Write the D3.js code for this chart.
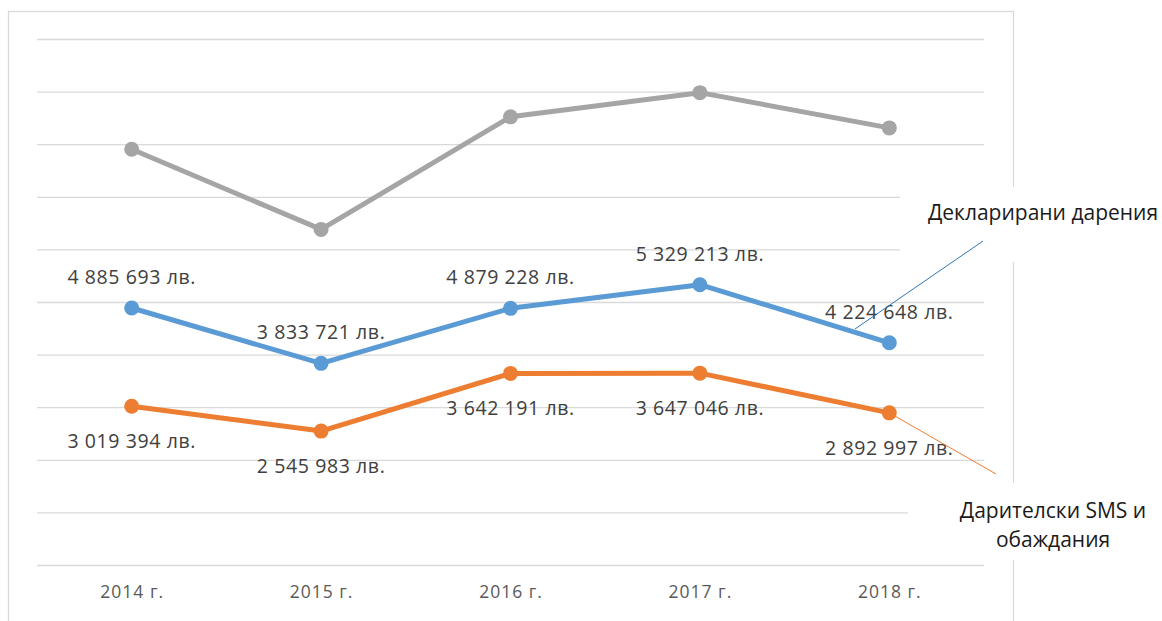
<!DOCTYPE html>
<html>
<head>
<meta charset="utf-8">
<script src="https://cdn.jsdelivr.net/npm/d3@7"></script>
<style>
  body { margin: 0; background: #fff; }
  svg text { font-family: "Open Sans", sans-serif; }
</style>
</head>
<body>
<div id="chart"></div>
<script>
// data
var years = ["2014 г.", "2015 г.", "2016 г.", "2017 г.", "2018 г."];
var declared = [4885693, 3833721, 4879228, 5329213, 4224648];   // Декларирани дарения
var sms = [3019394, 2545983, 3642191, 3647046, 2892997];        // Дарителски SMS и обаждания
var total = [7905000, 6380000, 8520000, 8980000, 8310000];      // grey series, no labels
var yMax = 10000000;

var svgWidth = 1162;
var svgHeight = 621;

var margin = { top: 39, right: 178, bottom: 56, left: 37 };
var width = svgWidth - margin.left - margin.right;
var height = svgHeight - margin.top - margin.bottom;

var svg = d3.select("#chart")
  .append("svg")
  .attr("width", svgWidth)
  .attr("height", svgHeight);

svg.append("rect")
  .attr("width", svgWidth)
  .attr("height", svgHeight)
  .attr("fill", "#fff");

// chart area border
svg.append("rect")
  .attr("x", 8.5)
  .attr("y", 11.5)
  .attr("width", 1005)
  .attr("height", 640)
  .attr("fill", "#fff")
  .attr("stroke", "#d9d9d9")
  .attr("stroke-width", 1.3);

var chartGroup = svg.append("g")
  .attr("transform", `translate(${margin.left}, ${margin.top})`);

// scales
var xScale = d3.scalePoint()
  .domain(years)
  .range([0, width])
  .padding(0.5);

var yScale = d3.scaleLinear()
  .domain([0, yMax])
  .range([height, 0]);

// gridlines
chartGroup.append("g")
  .attr("class", "grid")
  .call(d3.axisLeft(yScale).ticks(10).tickSize(-width).tickFormat(""))
  .call(g => g.select(".domain").remove())
  .call(g => g.selectAll("line").attr("stroke", "#d9d9d9").attr("stroke-width", 1.3));

// x axis
chartGroup.append("g")
  .attr("transform", `translate(0, ${height})`)
  .call(d3.axisBottom(xScale).tickSize(0).tickPadding(21))
  .call(g => g.select(".domain").remove())
  .call(g => g.selectAll("text")
    .attr("fill", "#595959")
    .style("font-size", "17.5px")
    .style("letter-spacing", "1px"));

var line = d3.line()
  .x((d, i) => xScale(years[i]))
  .y(d => yScale(d));

var series = [
  { values: total, color: "#a5a5a5" },
  { values: declared, color: "#5b9bd5" },
  { values: sms, color: "#ed7d31" }
];

series.forEach(function (s) {
  chartGroup.append("path")
    .datum(s.values)
    .attr("fill", "none")
    .attr("stroke", s.color)
    .attr("stroke-width", 5)
    .attr("stroke-linejoin", "round")
    .attr("d", line);

  chartGroup.selectAll(null)
    .data(s.values)
    .enter()
    .append("circle")
    .attr("cx", (d, i) => xScale(years[i]))
    .attr("cy", d => yScale(d))
    .attr("r", 7.5)
    .attr("fill", s.color);
});

// data labels
var fmt = v => d3.format(",")(v).replace(/,/g, " ") + " лв.";

function addLabels(values, dy) {
  chartGroup.selectAll(null)
    .data(values)
    .enter()
    .append("text")
    .attr("x", (d, i) => xScale(years[i]))
    .attr("y", d => yScale(d) + dy)
    .attr("text-anchor", "middle")
    .attr("fill", "#404040")
    .style("font-size", "19.5px")
    .style("letter-spacing", "0.6px")
    .text(fmt);
}
addLabels(declared, -24);
addLabels(sms, 42);

// callout labels (white boxes hide grid and border)
svg.append("rect")
  .attr("x", 900).attr("y", 187)
  .attr("width", 262).attr("height", 75)
  .attr("fill", "#fff");

svg.append("rect")
  .attr("x", 908).attr("y", 483)
  .attr("width", 254).attr("height", 77)
  .attr("fill", "#fff");

svg.append("line")
  .attr("x1", 855).attr("y1", 329)
  .attr("x2", 983).attr("y2", 241)
  .attr("stroke", "#2e75b6")
  .attr("stroke-width", 1);

svg.append("line")
  .attr("x1", xScale(years[4]) + margin.left).attr("y1", yScale(sms[4]) + margin.top)
  .attr("x2", 996).attr("y2", 474)
  .attr("stroke", "#ed7d31")
  .attr("stroke-width", 1);

svg.append("text")
  .attr("x", 1043)
  .attr("y", 220)
  .attr("text-anchor", "middle")
  .attr("fill", "#1a1a1a")
  .style("font-size", "21px")
  .text("Декларирани дарения");

var smsLabel = svg.append("text")
  .attr("text-anchor", "middle")
  .attr("fill", "#1a1a1a")
  .style("font-size", "21px");

smsLabel.append("tspan").attr("x", 1053).attr("y", 518).text("Дарителски SMS и");
smsLabel.append("tspan").attr("x", 1053).attr("y", 547).text("обаждания");
</script>
</body>
</html>
